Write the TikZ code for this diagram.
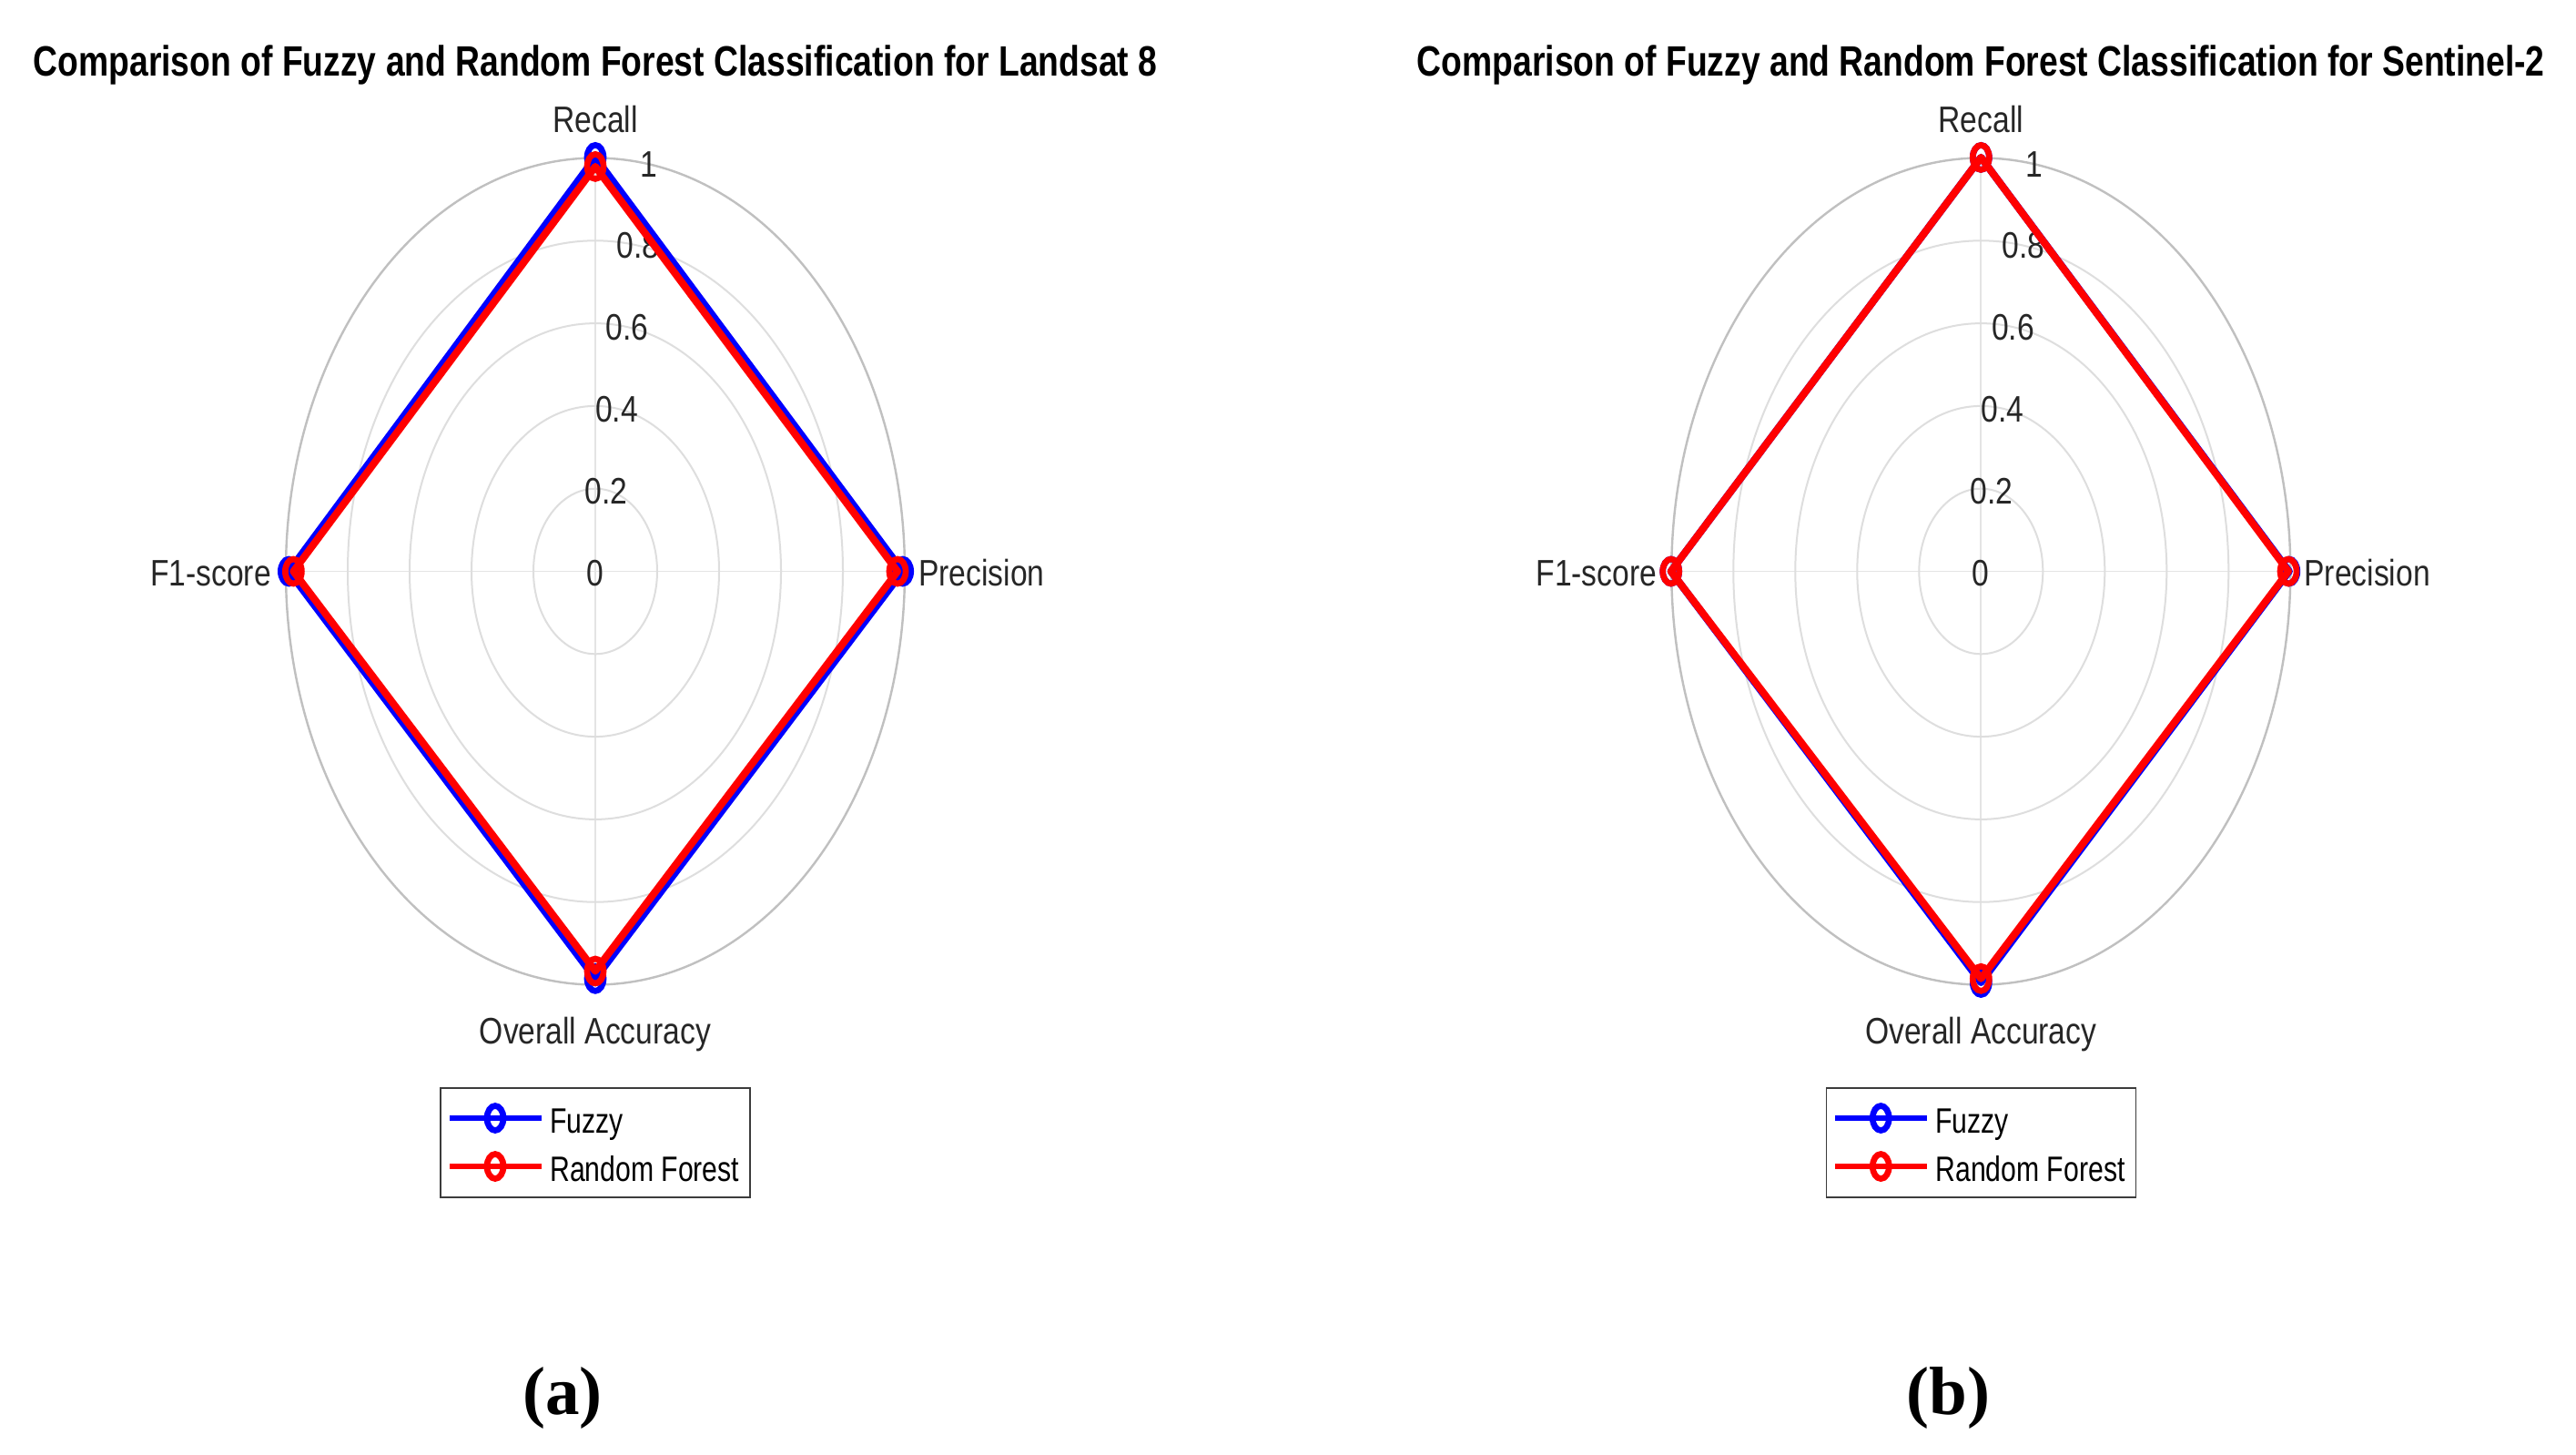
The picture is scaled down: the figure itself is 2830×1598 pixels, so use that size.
\documentclass[tikz,border=0pt]{standalone}
\usepackage{fontspec}
\setmainfont{Liberation Sans}
\newfontfamily\ttlfont[FakeStretch=0.80]{Liberation Sans}
\newfontfamily\lblfont[FakeStretch=0.83]{Liberation Sans}
\newfontfamily\legfont[FakeStretch=0.78]{Liberation Sans}
\newfontfamily\capfont{Liberation Serif}
\definecolor{fblue}{RGB}{0,0,255}
\definecolor{fred}{RGB}{255,0,0}
\definecolor{gridc}{RGB}{222,222,222}
\definecolor{outerc}{RGB}{192,192,192}
\definecolor{spokec}{RGB}{228,228,228}
\definecolor{txtc}{RGB}{38,38,38}
\definecolor{legedge}{RGB}{60,60,60}
\tikzset{
  ring/.style={draw=gridc, line width=2pt},
  outerring/.style={draw=outerc, line width=2.4pt},
  spoke/.style={draw=spokec, line width=1.8pt},
  axlbl/.style={inner sep=0pt, text=txtc, font=\lblfont\fontsize{40.5}{48}\selectfont},
  ttl/.style={inner sep=0pt, text=black, font=\ttlfont\bfseries\fontsize{46.6}{56}\selectfont},
  legtxt/.style={inner sep=0pt, text=black, font=\legfont\fontsize{38.7}{46}\selectfont},
  captxt/.style={inner sep=0pt, text=black, font=\capfont\bfseries\fontsize{75}{80}\selectfont},
  serieblue/.style={draw=fblue, line width=8pt, line join=round},
  seriered/.style={draw=fred, line width=8pt, line join=round},
  mkblue/.style={draw=fblue, line width=6.7pt},
  mkred/.style={draw=fred, line width=6.7pt},
  legbox/.style={draw=legedge, line width=1.6pt, fill=white},
  leglineblue/.style={draw=fblue, line width=6.7pt},
  leglinered/.style={draw=fred, line width=6.7pt},
}
% #1 prefix, #2 title, #3 caption
\newcommand{\radarbase}[3]{%
  \draw[spoke] (0,-454) -- (0,454);
  \draw[spoke] (-340,0) -- (340,0);
  \foreach \r in {0.2,0.4,0.6,0.8}
    \draw[ring] (0,0) ellipse [x radius={\r*340pt}, y radius={\r*454pt}];
  \draw[outerring] (0,0) ellipse [x radius=340pt, y radius=454pt];
  \foreach \r/\t [count=\i] in {0/0, 0.2/0.2, 0.4/0.4, 0.6/0.6, 0.8/0.8, 1/1}
    \node[axlbl, anchor=base] (#1-t\i) at ({58.5*\r},{16-449.5*\r}) {\t};
  \node[ttl, anchor=base] (#1-title) at (0,-543.8) {#2};
  \node[axlbl, anchor=base] (#1-recall) at (0,-482.5) {Recall};
  \node[axlbl, anchor=base west] (#1-prec) at (355,16) {Precision};
  \node[axlbl, anchor=base east] (#1-f1) at (-356,16) {F1-score};
  \node[axlbl, anchor=base] (#1-oa) at (0,519.3) {Overall Accuracy};
  \node[captxt, anchor=base] (#1-cap) at (-36,925.5) {#3};
}
% legend: #1 prefix
\newcommand{\radarlegend}[1]{%
  \node[legbox, minimum width=340pt, minimum height=120pt, inner sep=0pt] (#1-leg) at (0,627.5) {};
  \coordinate (#1-lb1) at (-160,600.5);
  \coordinate (#1-lb2) at (-59,600.5);
  \coordinate (#1-lbm) at (-110,600.5);
  \coordinate (#1-lr1) at (-160,653.5);
  \coordinate (#1-lr2) at (-59,653.5);
  \coordinate (#1-lrm) at (-110,653.5);
  \draw[leglineblue] (#1-lb1) -- (#1-lb2);
  \draw[mkblue] (#1-lbm) ellipse [x radius=9pt, y radius=13.5pt];
  \draw[leglinered] (#1-lr1) -- (#1-lr2);
  \draw[mkred] (#1-lrm) ellipse [x radius=9pt, y radius=13.5pt];
  \node[legtxt, anchor=base west] (#1-lfz) at (-50,616.5) {Fuzzy};
  \node[legtxt, anchor=base west] (#1-lrf) at (-50,669.5) {Random Forest};
}
% series: #1 prefix, #2 style, #3 marker style, #4 R, #5 P, #6 OA, #7 F1
\newcommand{\radarseries}[7]{%
  \coordinate (#1-R) at (0,#4);
  \coordinate (#1-P) at (#5,0);
  \coordinate (#1-O) at (0,#6);
  \coordinate (#1-F) at (#7,0);
  \draw[#2] (#1-R) -- (#1-P) -- (#1-O) -- (#1-F) -- cycle;
  \foreach \p in {R,P,O,F}
    \draw[#3] (#1-\p) ellipse [x radius=9pt, y radius=13.5pt];
}
\begin{document}
\begin{tikzpicture}[x=1pt,y=-1pt]
\fill[white] (0,0) rectangle (2830,1598);
\path[use as bounding box] (0,0) rectangle (2830,1598);
\begin{scope}[shift={(654,627.5)}]
  \radarbase{a}{Comparison of Fuzzy and Random Forest Classification for Landsat 8}{(a)}
  \radarseries{afz}{serieblue}{mkblue}{-454.6}{337.7}{447.3}{-336.6}
  \radarseries{arf}{seriered}{mkred}{-444.6}{332}{439}{-331.6}
  \radarlegend{a}
\end{scope}
\begin{scope}[shift={(2176.3,627.5)}]
  \radarbase{b}{Comparison of Fuzzy and Random Forest Classification for Sentinel-2}{(b)}
  \radarseries{bfz}{serieblue}{mkblue}{-454.6}{338.5}{451.5}{-340.6}
  \radarseries{brf}{seriered}{mkred}{-454.6}{337.7}{447.3}{-340.6}
  \radarlegend{b}
\end{scope}
\end{tikzpicture}
\end{document}
